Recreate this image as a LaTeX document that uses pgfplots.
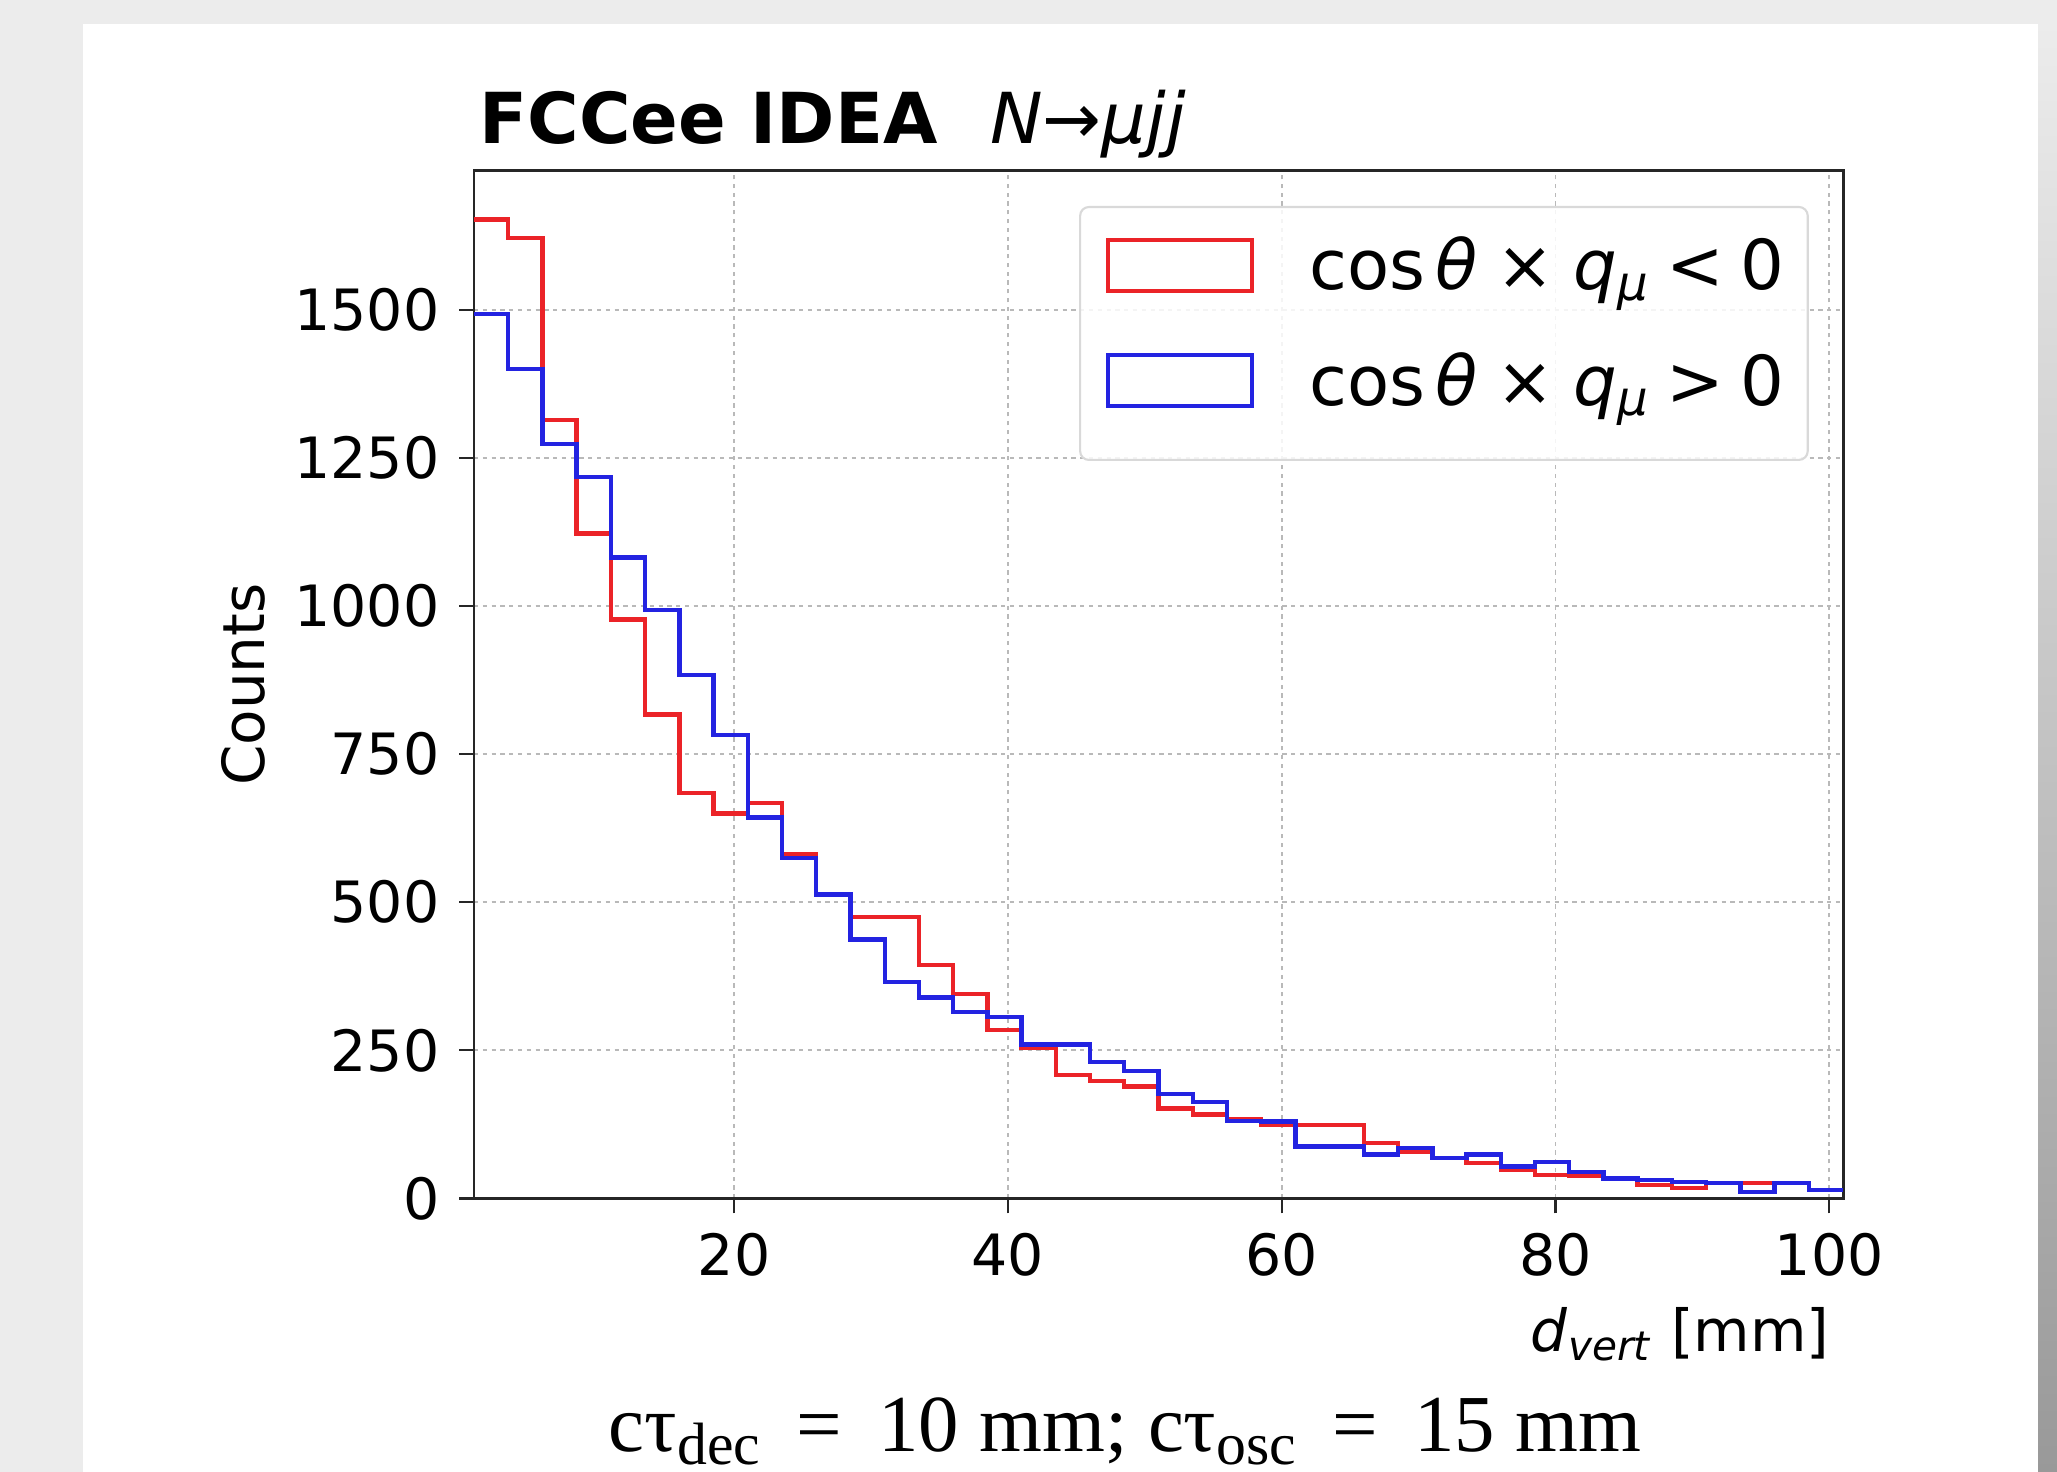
\documentclass[border=0pt]{standalone}
\usepackage{fontspec}
\setmainfont{DejaVu Sans}
\newfontfamily\serifcap{Liberation Serif}
\usepackage{pgfplots}
\usepackage{pgfplotstable}
\pgfplotsset{compat=1.18}
\definecolor{hred}{RGB}{235,35,40}
\definecolor{hblue}{RGB}{35,35,225}
\definecolor{bggray}{RGB}{236,236,236}
\pgfplotsset{
  redimg/.style={legend image code/.code={\path (-0.13cm,0cm); \draw[hred, sharp corners, line width=1.1pt, fill=white] (0cm,-0.25cm) rectangle (1.44cm,0.26cm);}},
  blueimg/.style={legend image code/.code={\path (-0.13cm,0cm); \draw[hblue, sharp corners, line width=1.1pt, fill=white] (0cm,-0.25cm) rectangle (1.44cm,0.26cm); \path (0cm,-0.565cm);}},
}

\pgfplotstableread{
x r b
1 1652 1493
3.5 1621 1400
6 1314 1273
8.5 1122 1218
11 977 1082
13.5 817 993
16 684 883
18.5 650 782
21 667 643
23.5 581 575
26 513 513
28.5 475 437
31 475 365
33.5 394 339
36 345 315
38.5 284 306
41 254 260
43.5 208 260
46 198 230
48.5 189 215
51 152 176
53.5 142 163
56 133 131
58.5 124 130
61 124 88
63.5 124 88
66 94 74
68.5 78 85
71 68 68
73.5 60 74
76 48 54
78.5 40 62
81 39 45
83.5 34 34
86 23 31
88.5 18 28
91 26 26
93.5 26 11
96 26 26
98.5 14 14
101 14 14
}\histdata

\begin{document}
\begin{tikzpicture}
\useasboundingbox (0,0) rectangle (20.57,14.72);
\fill[bggray] (0,0) rectangle (20.57,14.72);
\shade[top color=gray!15, bottom color=gray!80] (20.38,0) rectangle (20.57,14.48);
\fill[white] (0.83,0) rectangle (20.38,14.48);
\begin{axis}[
  at={(4.74cm,2.735cm)}, anchor=south west,
  scale only axis, width=13.69cm, height=10.278cm,
  xmin=1, xmax=101, ymin=0, ymax=1734.6,
  xtick={20,40,60,80,100},
  ytick={0,250,500,750,1000,1250,1500},
  xtick pos=bottom, ytick pos=left,
  tick align=outside, major tick length=0.15cm,
  tick style={black!85, line width=0.6pt},
  axis line style={line width=0.85pt, black!85},
  grid=major,
  major grid style={gray!55, line width=0.5pt, dash pattern=on 1.2pt off 1.3pt},
  ticklabel style={font=\fontsize{16.2}{19}\selectfont},
  /pgf/number format/assume math mode=true,
  /pgf/number format/1000 sep={},
  xticklabel style={anchor=north, inner sep=0pt, yshift=-0.195cm},
  yticklabel style={anchor=east, inner sep=0pt, xshift=-0.19cm},
  ylabel={Counts},
  ylabel style={at={(axis description cs:-0.1687,0.5)}, anchor=center, font=\fontsize{16.5}{19}\selectfont},
  xlabel={\textit{d}\textsubscript{\textit{vert}} [mm]},
  xlabel style={at={(axis description cs:0.9905,-0.1484)}, anchor=base east, inner sep=0pt, font=\fontsize{16.5}{19}\selectfont},
  title={\textbf{FCCee IDEA}\hspace{0.75em}\textit{N}{\upshape →}\textit{μjj}},
  every axis title shift=0pt,
  title style={at={(axis description cs:0.0037,1.026)}, anchor=base west, inner sep=0pt, yshift=0pt, font=\fontsize{20}{24}\selectfont},
  legend cell align=left,
  legend style={at={(axis description cs:0.975,0.9657)}, anchor=north east,
    draw=gray!30, line width=0.6pt, rounded corners=2.5pt, fill=white, fill opacity=0.85, text opacity=1,
    font=\fontsize{19.6}{24}\selectfont, inner xsep=0.13cm, inner ysep=0.2cm,
    nodes={inner sep=0.1cm}, row sep=0.37cm,
    /tikz/every odd column/.append style={column sep=0.45cm}},
]
\addplot[const plot mark left, hred, line width=1.25pt, redimg] table[x=x, y=r] {\histdata};
\addlegendentry{cos\hspace{0.15em}\textit{θ}\hspace{0.28em}×\hspace{0.28em}\textit{q}\textsubscript{\textit{μ}}\hspace{0.24em}<\hspace{0.24em}0}
\addplot[const plot mark left, hblue, line width=1.25pt, blueimg] table[x=x, y=b] {\histdata};
\addlegendentry{cos\hspace{0.15em}\textit{θ}\hspace{0.28em}×\hspace{0.28em}\textit{q}\textsubscript{\textit{μ}}\hspace{0.24em}>\hspace{0.24em}0}
\end{axis}
\node[anchor=base, inner sep=0pt, font=\serifcap\fontsize{23}{26}\selectfont] at (11.25,0.2)
  {cτ\raisebox{-0.15em}{\fontsize{17}{18}\selectfont dec}\hspace{0.45em}=\hspace{0.45em}10 mm;\hspace{0.25em}cτ\raisebox{-0.15em}{\fontsize{17}{18}\selectfont osc}\hspace{0.45em}=\hspace{0.45em}15 mm};
\end{tikzpicture}
\end{document}
